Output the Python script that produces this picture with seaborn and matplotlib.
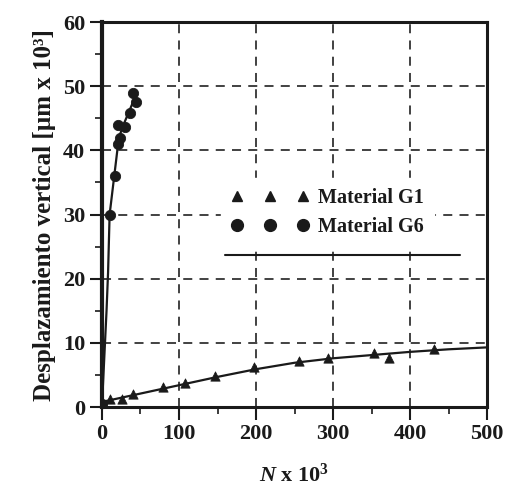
import matplotlib
matplotlib.use("Agg")
import matplotlib.pyplot as plt
from matplotlib.lines import Line2D
from matplotlib.ticker import MultipleLocator
import seaborn as sns
import pandas as pd

# Material G1 (triangles)
g1_x = [0, 10, 26, 40, 79, 108, 147, 197, 256, 294, 353, 372, 431]
g1_y = [0.3, 1.3, 1.2, 2.0, 3.1, 3.7, 4.9, 6.3, 7.1, 7.7, 8.5, 7.7, 9.0]
# G1 trend line
g1_fit_x = [0, 50, 100, 150, 200, 250, 300, 350, 400, 450, 500]
g1_fit_y = [0.8, 2.1, 3.4, 4.7, 5.9, 6.9, 7.6, 8.1, 8.6, 9.0, 9.3]

# Material G6 (circles)
g6_x = [0, 10, 16.5, 21, 23, 21, 29.5, 36, 40, 44.6]
g6_y = [0.5, 30, 36, 41, 42, 44, 43.7, 45.8, 49, 47.5]
# G6 trend line
g6_fit_x = [0, 2, 4, 6, 8, 10, 13, 17, 22, 28, 35, 42]
g6_fit_y = [0, 5, 10, 15, 21, 30, 33, 37, 42, 44, 46, 48]

labels = ["Material G1", "Material G6"]
x_ticks = [0, 100, 200, 300, 400, 500]
y_ticks = [0, 10, 20, 30, 40, 50, 60]

sns.set_theme(style="white")
plt.rcParams['font.family'] = ['Liberation Serif', 'DejaVu Serif']
plt.rcParams['font.weight'] = 'bold'
plt.rcParams['mathtext.fontset'] = 'custom'
plt.rcParams['mathtext.rm'] = 'Liberation Serif:bold'
plt.rcParams['mathtext.bf'] = 'Liberation Serif:bold'
plt.rcParams['mathtext.it'] = 'Liberation Serif:italic:bold'

INK = "#1a1a1a"
fig = plt.figure(figsize=(5.07, 4.91), dpi=100)
ax = fig.add_axes([0.201, 0.171, 0.76, 0.784])

d1 = pd.DataFrame({"x": g1_x, "y": g1_y})
d1f = pd.DataFrame({"x": g1_fit_x, "y": g1_fit_y})
d6 = pd.DataFrame({"x": g6_x, "y": g6_y})
d6f = pd.DataFrame({"x": g6_fit_x, "y": g6_fit_y})

sns.lineplot(data=d1f, x="x", y="y", ax=ax, color=INK, lw=1.6, sort=False, zorder=3)
sns.lineplot(data=d6f, x="x", y="y", ax=ax, color=INK, lw=1.6, sort=False, zorder=3)
sns.scatterplot(data=d1, x="x", y="y", ax=ax, marker="^", s=45, color=INK, edgecolor=INK, zorder=4)
sns.scatterplot(data=d6, x="x", y="y", ax=ax, marker="o", s=55, color=INK, edgecolor=INK, zorder=4)

ax.set_xlim(0, 500)
ax.set_ylim(0, 60)
ax.set_xticks(x_ticks)
ax.set_yticks(y_ticks)
ax.xaxis.set_minor_locator(MultipleLocator(50))
ax.yaxis.set_minor_locator(MultipleLocator(5))
ax.tick_params(axis="both", which="major", direction="out", length=9, width=1.5, pad=3,
               color=INK, labelsize=16, labelcolor=INK, bottom=True, left=True)
ax.tick_params(axis="both", which="minor", direction="out", length=5, width=1.2,
               color=INK, bottom=True, left=True)
for lab in ax.get_xticklabels() + ax.get_yticklabels():
    lab.set_fontweight("bold")

ax.grid(True, which="major", linestyle=(0, (5, 4)), color="#333333", lw=1.3)
ax.set_axisbelow(True)
for s in ax.spines.values():
    s.set_color(INK)
    s.set_linewidth(2.2)
ax.spines["left"].set_linewidth(3)

ax.set_xlabel(r"$\mathit{N}$ x 10$^3$", fontsize=16, fontweight="bold", color=INK, labelpad=14)
ax.set_ylabel("Desplazamiento vertical [\u00b5m x 10\u00b3]", fontsize=18, fontweight="bold",
              color=INK, labelpad=5)

handles = [
    Line2D([], [], marker="^", linestyle="none", color=INK, markersize=7),
    Line2D([], [], marker="o", linestyle="none", color=INK, markersize=8.5),
]
leg = ax.legend(handles, labels, loc="center left", bbox_to_anchor=(0.282, 0.505),
                numpoints=3, handlelength=3.9, handletextpad=0.45, labelspacing=0.45,
                frameon=True, facecolor="white", edgecolor="white", framealpha=1,
                fontsize=14.5, borderpad=0.5)
for t in leg.get_texts():
    t.set_fontweight("bold")
    t.set_color(INK)
leg.set_zorder(5)

ax.add_line(Line2D([0.32, 0.93], [0.395, 0.395], transform=ax.transAxes,
                   color=INK, lw=1.5, zorder=6))

fig.savefig("out.png", dpi=100)
